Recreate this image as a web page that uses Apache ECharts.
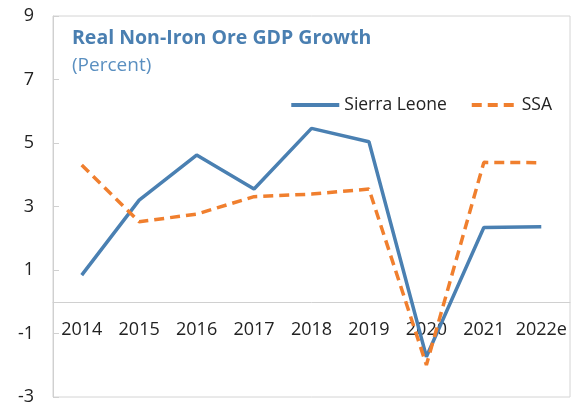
<!DOCTYPE html>
<html>
<head>
<meta charset="utf-8">
<script src="https://cdn.jsdelivr.net/npm/echarts@6/dist/echarts.min.js"></script>
<style>
  html, body { margin: 0; padding: 0; background: #fff; }
  #chart { width: 571px; height: 403px; }
</style>
</head>
<body>
<div id="chart"></div>
<script>
const years = ["2014", "2015", "2016", "2017", "2018", "2019", "2020", "2021", "2022e"];
const sierraLeone = [0.84, 3.2, 4.62, 3.55, 5.46, 5.04, -1.73, 2.34, 2.36];
const ssa = [4.31, 2.52, 2.76, 3.31, 3.39, 3.55, -1.99, 4.39, 4.38];

const FONT = "Open Sans";
const BLUE = "#4a80b2";
const ORANGE = "#f07f2e";
const myChart = echarts.init(document.getElementById("chart"));

// grid: 16 top, 6 bottom -> 381px for 12 units; zero line sits 3 units above bottom
const gridH = 403 - 16 - 6;
const zeroOffset = gridH * 3 / 12;

const option = {
  animation: false,
  textStyle: { fontFamily: FONT },
  title: {
    text: "Real Non-Iron Ore GDP Growth",
    subtext: "(Percent)",
    left: 67,
    top: 23,
    itemGap: 8,
    textStyle: { fontFamily: FONT, fontSize: 19.5, fontWeight: "bold", color: "#4a7fb1" },
    subtextStyle: { fontFamily: FONT, fontSize: 19, color: "#5a8fc0" }
  },
  legend: {
    right: 14,
    top: 91,
    itemWidth: 48,
    itemHeight: 4,
    itemGap: 25,
    textStyle: { fontFamily: FONT, fontSize: 17.5, color: "#222" },
    data: [
      { name: "Sierra Leone", icon: "path://M0,0L48,0L48,4L0,4Z" },
      { name: "SSA", icon: "path://M0,0L10,0L10,4L0,4ZM16,0L26,0L26,4L16,4ZM32,0L42,0L42,4L32,4Z" }
    ]
  },
  grid: {
    left: 53,
    top: 16,
    right: 1,
    bottom: 6,
    outerBoundsMode: "none",
    containLabel: false,
    show: true,
    borderColor: "#d4d4d4",
    borderWidth: 1
  },
  xAxis: {
    type: "category",
    data: years,
    boundaryGap: true,
    offset: -zeroOffset,
    axisLine: { onZero: false, lineStyle: { color: "#d0d0d0", width: 1 } },
    axisTick: { inside: true, length: 7, lineStyle: { color: "#d0d0d0" } },
    axisLabel: { interval: 0, margin: 19, fontSize: 18, color: "#222", fontFamily: FONT }
  },
  yAxis: {
    type: "value",
    min: -3,
    max: 9,
    interval: 2,
    axisLine: { show: true, lineStyle: { color: "#d0d0d0" } },
    axisTick: { show: true, inside: true, length: 6, lineStyle: { color: "#d0d0d0" } },
    splitLine: { show: false },
    axisLabel: { margin: 19, fontSize: 18, color: "#222", fontFamily: FONT }
  },
  series: [
    {
      name: "Sierra Leone",
      type: "line",
      data: sierraLeone,
      symbol: "none",
      lineStyle: { color: BLUE, width: 3.5 },
      itemStyle: { color: BLUE }
    },
    {
      name: "SSA",
      type: "line",
      data: ssa,
      symbol: "none",
      lineStyle: { color: ORANGE, width: 3.5, type: [10, 6] },
      itemStyle: { color: ORANGE }
    }
  ]
};

myChart.setOption(option);
</script>
</body>
</html>
